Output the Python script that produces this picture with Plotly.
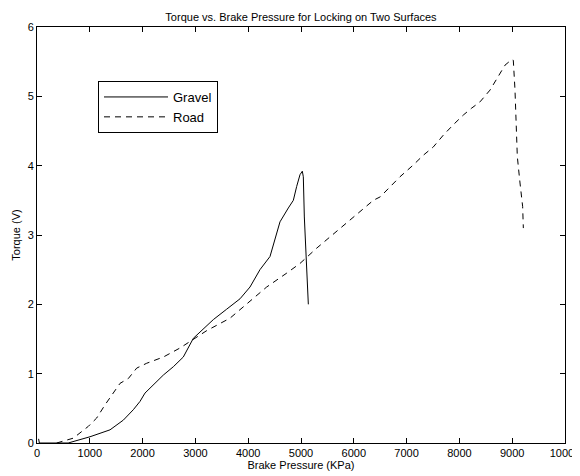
import plotly.graph_objects as go

gravel_x = [30, 45, 590, 1004, 1383, 1635, 1824, 1951, 2045, 2203, 2393, 2582, 2771, 2961, 3150, 3340,
            3592, 3845, 4034, 4223, 4413, 4508, 4602, 4760, 4855, 4918, 4981, 5025, 5044, 5063, 5095, 5120, 5139]
gravel_y = [0.06, 0, 0, 0.09, 0.19, 0.33, 0.48, 0.60, 0.72, 0.84, 0.98, 1.10, 1.24, 1.51, 1.64, 1.78,
            1.93, 2.08, 2.25, 2.50, 2.69, 2.93, 3.19, 3.39, 3.50, 3.70, 3.87, 3.92, 3.84, 3.26, 2.69, 2.16, 2.00]

road_x = [373, 688, 972, 1130, 1288, 1446, 1572, 1730, 1888, 2077, 2393, 2708, 2961, 3213, 3655, 4350,
          4729, 4981, 5297, 5739, 6117, 6370, 6500, 6875, 7127, 7316, 7506, 7695, 7884, 8074, 8232, 8390,
          8580, 8737, 8864, 8990, 9021, 9053, 9072, 9097, 9148, 9198, 9211]
road_y = [0, 0.07, 0.24, 0.36, 0.55, 0.72, 0.86, 0.93, 1.08, 1.15, 1.24, 1.37, 1.49, 1.62, 1.80, 2.25,
          2.45, 2.59, 2.81, 3.10, 3.34, 3.50, 3.55, 3.84, 4.01, 4.15, 4.27, 4.44, 4.59, 4.73, 4.83, 4.92,
          5.09, 5.28, 5.45, 5.53, 5.52, 5.09, 4.61, 4.13, 3.75, 3.41, 3.10]

x_ticks = [0, 1000, 2000, 3000, 4000, 5000, 6000, 7000, 8000, 9000, 10000]
y_ticks = [0, 1, 2, 3, 4, 5, 6]

fig = go.Figure()
fig.add_trace(go.Scatter(x=gravel_x, y=gravel_y, mode="lines", name="Gravel",
                         line=dict(color="black", width=1)))
fig.add_trace(go.Scatter(x=road_x, y=road_y, mode="lines", name="Road",
                         line=dict(color="black", width=1, dash="6px,5px")))

font = "Liberation Sans, Arial, sans-serif"
axis_common = dict(showline=True, linecolor="black", linewidth=1, mirror="allticks",
                   ticks="inside", ticklen=5, tickcolor="black", showgrid=False, zeroline=False,
                   automargin=False, ticklabeloverflow="allow",
                   tickfont=dict(family=font, size=11, color="black"))

# page body has an 8px margin, so the figure is offset by 8px in the window
fig.update_layout(
    width=572, height=468,
    margin=dict(l=29, r=15, t=19, b=33),
    paper_bgcolor="white", plot_bgcolor="white",
    title=dict(text="Torque vs. Brake Pressure for Locking on Two Surfaces",
               font=dict(family=font, size=11, color="black"),
               x=0.5, xref="paper", xanchor="center", y=1, yref="paper", yanchor="bottom", pad=dict(b=6)),
    xaxis=dict(range=[0, 10000], tickvals=x_ticks, ticktext=[str(v) for v in x_ticks],
               title=dict(text="Brake Pressure (KPa)", font=dict(family=font, size=11, color="black"),
                          standoff=0), **axis_common),
    yaxis=dict(range=[0, 6], tickvals=y_ticks, ticktext=[str(v) for v in y_ticks],
               title=dict(text="Torque (V)", font=dict(family=font, size=11, color="black"),
                          standoff=4), **axis_common),
    legend=dict(x=(98 - 37) / 528, y=(443 - 81) / 416, xanchor="left", yanchor="top",
                bordercolor="black", borderwidth=1, bgcolor="white",
                font=dict(family=font, size=13, color="black"),
                itemwidth=64, tracegroupgap=0),
    showlegend=True,
)

fig.write_html("out.html")
